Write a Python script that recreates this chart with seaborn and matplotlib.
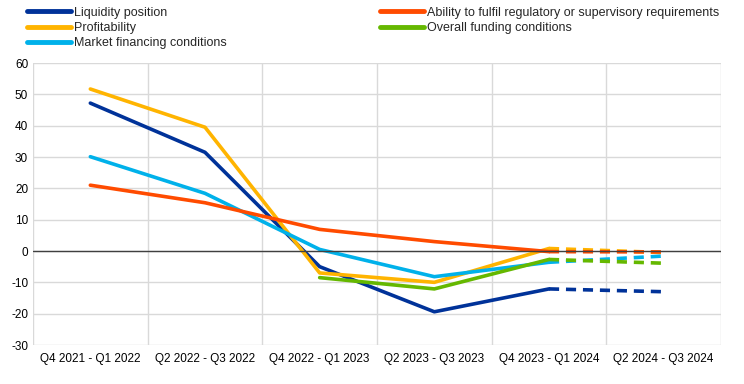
import numpy as np
import pandas as pd
import matplotlib.pyplot as plt
import seaborn as sns

periods = ["Q4 2021 - Q1 2022", "Q2 2022 - Q3 2022", "Q4 2022 - Q1 2023",
           "Q2 2023 - Q3 2023", "Q4 2023 - Q1 2024", "Q2 2024 - Q3 2024"]

liquidity = [47.2, 31.5, -5.0, -19.4, -12.1, -13.0]
ability = [21.0, 15.4, 6.9, 3.0, -0.2, -0.3]
profitability = [51.7, 39.5, -7.0, -10.0, 0.8, -0.5]
funding = [np.nan, np.nan, -8.5, -12.1, -2.7, -3.9]
market = [30.1, 18.4, 0.5, -8.2, -3.6, -1.6]

series_names = ["Liquidity position", "Profitability", "Market financing conditions",
                "Ability to fulfil regulatory or supervisory requirements",
                "Overall funding conditions"]
series_values = [liquidity, profitability, market, ability, funding]
colors = ["#003299", "#FFB400", "#00B1EA", "#FF4B00", "#65B800"]

rows = []
for name, vals in zip(series_names, series_values):
    for i, v in enumerate(vals):
        rows.append({"series": name, "x": i, "value": v})
df = pd.DataFrame(rows)
actual = df[df["x"] <= 4]
forecast = df[df["x"] >= 4]

sns.set_style("white")
plt.rcParams['font.family'] = ['Liberation Sans', 'DejaVu Sans']
plt.rcParams['axes.unicode_minus'] = False

fig, ax = plt.subplots(figsize=(7.44, 3.84), dpi=100)
fig.subplots_adjust(left=33/744, right=721/744, top=1-63/384, bottom=1-345/384)

palette = dict(zip(series_names, colors))
sns.lineplot(data=actual, x="x", y="value", hue="series", hue_order=series_names,
             palette=palette, linewidth=2.6, ax=ax, legend=True)
sns.lineplot(data=forecast, x="x", y="value", hue="series", hue_order=series_names,
             palette=palette, linewidth=2.6, ax=ax, legend=False,
             linestyle=(0, (2.8, 1.9)))

ax.set_xlim(-0.5, 5.5)
ax.set_ylim(-30, 60)
ax.set_yticks(range(-30, 61, 10))
ax.set_xticks(range(6))
ax.set_xticklabels(periods)
ax.set_xticks(np.arange(-0.5, 6, 1), minor=True)
ax.grid(False)
ax.grid(axis="y", which="major", color="#d9d9d9", linewidth=1)
ax.grid(axis="x", which="minor", color="#d9d9d9", linewidth=1)
ax.tick_params(axis="both", which="both", length=0, labelsize=8.5, colors="black")
ax.tick_params(axis="x", pad=6)
ax.axhline(0, color="#404040", linewidth=1)
for s in ax.spines.values():
    s.set_visible(False)
ax.set_xlabel("")
ax.set_ylabel("")
ax.set_axisbelow(True)

handles, labels = ax.get_legend_handles_labels()
for h in handles:
    h.set_linewidth(3.5)
ax.legend(handles, labels, ncol=2, loc="upper left", bbox_to_anchor=(23/744, 1 - 3/384),
          bbox_transform=fig.transFigure, frameon=False, fontsize=9,
          handlelength=3.5, handletextpad=0.25, columnspacing=12.3,
          labelspacing=0.25, borderaxespad=0.2, borderpad=0.1)

fig.savefig("out.png", dpi=100)
